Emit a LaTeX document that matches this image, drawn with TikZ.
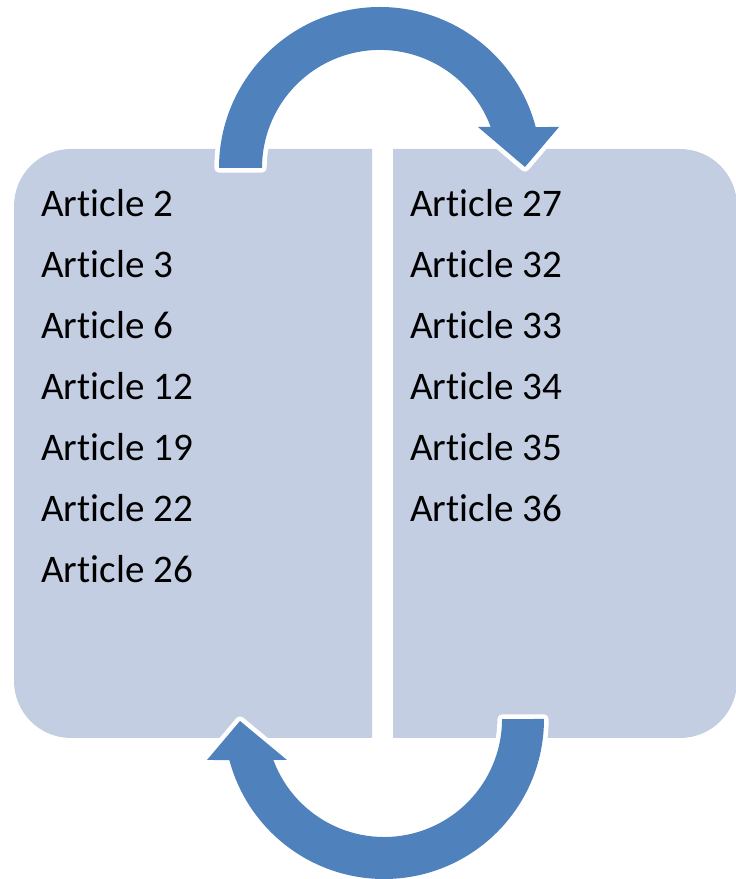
\documentclass[tikz,border=0pt]{standalone}
\usepackage{fontspec}
\setmainfont{Carlito}[Ligatures=NoCommon]
\usetikzlibrary{positioning}
\definecolor{PanelBlue}{HTML}{C3CEE3}
\definecolor{ArrowBlue}{HTML}{4F81BD}
\tikzset{
  panel/.style={fill=PanelBlue},
  article/.style={anchor=base west, inner sep=0pt, font=\fontsize{29.3}{35}\selectfont},
  bentarrow/.style={fill=ArrowBlue, line join=round,
    preaction={draw=white, line width=7pt, line join=round}}
}
\begin{document}
\begin{tikzpicture}[x=1pt, y=1pt, scale=0.75]
  \useasboundingbox (0,0) rectangle (736,879);

  % the two panels
  \fill[panel] (372,730) -- (71,730) arc[start angle=90, end angle=180, radius=57]
    -- (14,198) arc[start angle=180, end angle=270, radius=57] -- (372,141) -- cycle;
  \fill[panel] (393,730) -- (680,730) arc[start angle=90, end angle=0, radius=57]
    -- (737,198) arc[start angle=0, end angle=-90, radius=57] -- (393,141) -- cycle;

  % article lists
  \foreach \num [count=\i from 0] in {2,3,6,12,19,22,26}{%
    \node[article] (left\i) at (41,{662-61*\i}) {Article \num};
  }
  \foreach \num [count=\i from 0] in {27,32,33,34,35,36}{%
    \node[article] (right\i) at (410,{662-61*\i}) {Article \num};
  }

  % top arrow, left to right
  \coordinate (TopCentre) at (380,711);
  \fill[bentarrow] (219,711) arc[start angle=180, end angle=14.75, radius=161]
    -- (559,752) -- (525,712) -- (478,752) -- (490.7,752)
    arc[start angle=20.3, end angle=180, radius=118] -- cycle;

  % bottom arrow, right to left
  \coordinate (BottomCentre) at (384,160);
  \fill[bentarrow] (544,160) arc[start angle=0, end angle=-165.15, radius=160]
    -- (207,119) -- (240,158) -- (287,119) -- (273.4,119)
    arc[start angle=-159.67, end angle=0, radius=118] -- cycle;
\end{tikzpicture}
\end{document}
